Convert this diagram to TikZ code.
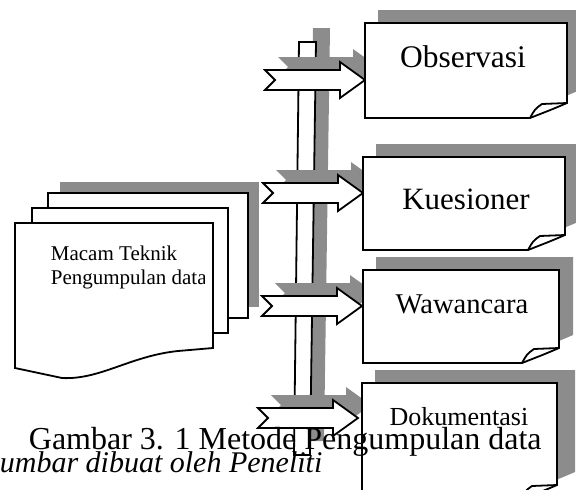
\documentclass[tikz,border=0pt]{standalone}
\usepackage{fontspec}
\setmainfont{Liberation Serif}
\usepackage{tikz}
\usetikzlibrary{positioning,calc}
\tikzset{every picture/.style={line width=1.8pt}}
\tikzstyle{shadow}=[fill=black!45,draw=none]
\tikzstyle{sheet}=[fill=white,draw=black,line join=miter]
\tikzstyle{lbl}=[inner sep=0pt,anchor=base]
\newcommand{\fatarrow}[2]{\path[#1] (#2) -- ++(-25,-18) -- ++(0,8) -- ++(-75,0) -- ++(10,10) -- ++(-10,10) -- ++(75,0) -- ++(0,8) -- cycle;}
\newcommand{\notebox}[5]{\path[#1] (#2,#3) -- (#4,#3) -- (#4,#5-15) .. controls (#4-14,#5-9) .. (#4-37,#5) -- (#2,#5) -- cycle;}
\newcommand{\noteflap}[2]{\draw (#1-37,#2) .. controls (#1-32,#2-9) .. (#1-25,#2-14) -- (#1,#2-15);}

\begin{document}
\begin{tikzpicture}[x=1pt,y=-1pt]
\clip (0,0) rectangle (576,490);
\coordinate (O-in) at (365,80);
\coordinate (K-in) at (363,193);
\coordinate (W-in) at (362,306);
\coordinate (D-in) at (358,418);
\coordinate (O-sh) at (378,67);
\coordinate (K-sh) at (376,180);
\coordinate (W-sh) at (375,293);
\coordinate (D-sh) at (371,405);

\path[shadow] (60,182) rectangle (259,307);
\path[sheet] (48,193) rectangle (248,318);
\path[sheet] (32,208) rectangle (228,333);
\path[sheet] (15,223) -- (213,223) -- (213,348) -- (178,351) .. controls (130,356) and (100,380) .. (62,378) -- (15,368) -- cycle;
\begin{scope}
\clip (15,223) rectangle (204,300);
\node[lbl,anchor=base west,font=\fontsize{21}{21}\selectfont] (M) at (50,260) {Macam Teknik};
\node[lbl,anchor=base west,font=\fontsize{21}{21}\selectfont] (P) at (50,284) {Pengumpulan data};
\end{scope}

\path[shadow] (313,28) -- (330,28) -- (324,441) -- (308,441) -- cycle;
\path[sheet] (299,42) -- (316,42) -- (310,455) -- (294,455) -- cycle;

\fatarrow{fill=black!45,draw=none}{O-sh}
\fatarrow{fill=black!45,draw=none}{K-sh}
\fatarrow{fill=black!45,draw=none}{W-sh}
\fatarrow{fill=black!45,draw=none}{D-sh}
\fatarrow{sheet}{O-in}
\fatarrow{sheet}{K-in}
\fatarrow{sheet}{W-in}
\fatarrow{sheet}{D-in}

\notebox{shadow}{378}{10}{580}{105}
\notebox{shadow}{376}{144}{578}{237}
\notebox{shadow}{376}{257}{573}{350}
\notebox{shadow}{375}{370}{575}{487}
\notebox{sheet}{365}{23}{567}{118}
\notebox{sheet}{363}{157}{565}{250}
\notebox{sheet}{363}{270}{559}{363}
\notebox{sheet}{362}{383}{557}{500}
\noteflap{567}{118}
\noteflap{565}{250}
\noteflap{559}{363}
\noteflap{557}{500}

\node[lbl,font=\fontsize{31.5}{31.5}\selectfont] (O) at (463,67) {Observasi};
\node[lbl,font=\fontsize{31}{31}\selectfont] (K) at (466,209) {Kuesioner};
\node[lbl,font=\fontsize{28.6}{28.6}\selectfont] (W) at (462,313) {Wawancara};
\node[lbl,font=\fontsize{26}{26}\selectfont] (D) at (459,425) {Dokumentasi};

\node[lbl,anchor=base west,font=\fontsize{32}{32}\selectfont] (cap) at (28,449) {Gambar 3. 1 Metode Pengumpulan data};
\node[lbl,anchor=base west,font=\fontsize{30}{30}\selectfont\itshape] (src) at (-1,472) {umbar dibuat oleh Peneliti};
\end{tikzpicture}
\end{document}
